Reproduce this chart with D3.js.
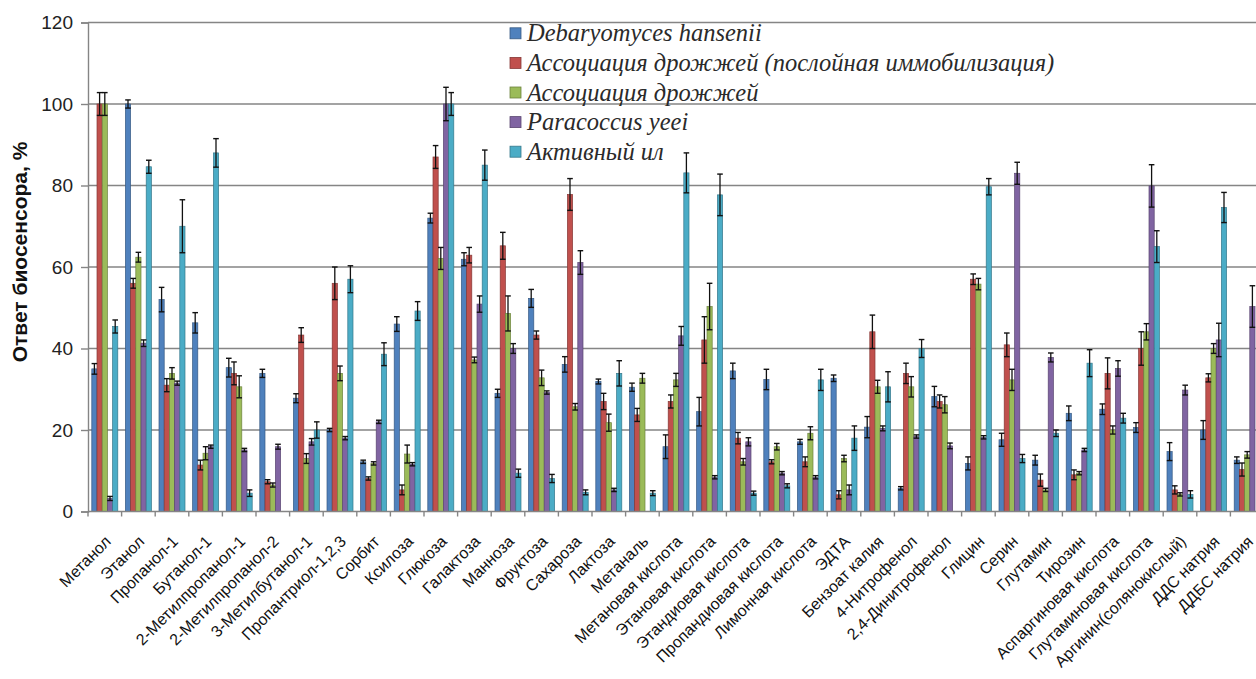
<!DOCTYPE html>
<html><head><meta charset="utf-8">
<script src="https://cdn.jsdelivr.net/npm/d3@7"></script>
<style>html,body{margin:0;padding:0;background:#fff;overflow:hidden}</style>
</head><body>
<svg id="chart" width="1256" height="679"></svg>
<script>
const categories = ["Метанол","Этанол","Пропанол-1","Бутанол-1","2-Метилпропанол-1","2-Метилпропанол-2","3-Метилбутанол-1","Пропантриол-1,2,3","Сорбит","Ксилоза","Глюкоза","Галактоза","Манноза","Фруктоза","Сахароза","Лактоза","Метаналь","Метановая кислота","Этановая кислота","Этандиовая кислота","Пропандиовая кислота","Лимонная кислота","ЭДТА","Бензоат калия","4-Нитрофенол","2,4-Динитрофенол","Глицин","Серин","Глутамин","Тирозин","Аспаргиновая кислота","Глутаминовая кислота","Аргинин(солянокислый)","ДДС натрия","ДДБС натрия"];

const seriesNames = ["Debaryomyces hansenii","Ассоциация дрожжей (послойная иммобилизация)","Ассоциация дрожжей","Paracoccus yeei","Активный ил"];

const debaryomyces = [35,100,52,46.3,35.3,33.9,27.8,20,12.2,46,72,61.9,29,52.3,36.1,31.9,30.5,15.9,24.5,34.5,32.4,17.1,32.7,20.7,5.7,28.2,11.8,17.6,12.6,24.1,25.1,20.6,14.7,20,12.6];
const debaryomycesErr = [1.3,1,3,2.5,2.3,1,1.1,0.4,0.4,1.8,1.2,1.6,1,2.2,1.9,0.6,1,2.9,3.5,1.9,2.5,0.6,0.8,2.6,0.4,2.5,1.6,1.6,1.2,1.8,1.3,1.2,2.2,2.3,0.8];

const assocLayer = [100,56,31,11.4,33.9,7.3,43.3,56,8.1,5.3,87,62.9,65.2,43.3,77.8,27,23.7,27,42.1,18,12.2,12.2,4.1,44.1,33.9,27,57,40.9,7.7,9,33.9,40,5.3,32.8,10.3];
const assocLayerErr = [2.8,1.2,1.6,1.2,2.8,0.5,1.8,4,0.4,1.2,2.8,1.9,3.3,1,3.9,2,1.6,1.6,5.7,1.4,0.5,1.2,1,4.1,2.5,1.6,1.3,2.9,1.5,1.2,3.8,4.1,1,1,1.6];

const assoc = [100,62.4,33.9,14.3,30.6,6.5,13,33.9,11.8,14.1,62.1,37.2,48.6,32.8,25.7,21.8,32.7,32.3,50.3,12.2,15.9,19.2,13,30.6,30.6,26.2,55.8,32.3,5.3,9.4,20,44.1,4.2,40,13.9];
const assocErr = [2.8,1.2,1.4,1.6,2.7,0.5,1.2,1.8,0.4,2.2,2.7,0.7,4.3,1.9,0.8,2.1,1.2,1.6,5.7,0.8,0.8,1.6,0.8,1.6,2.5,2,1.4,2.6,0.4,0.4,1,2,0.4,1.2,0.8];

const paracoccus = [3.2,41.3,31.5,15.9,15.1,15.9,17.1,18,22,11.6,100,50.9,40,29.2,61.1,5.3,0,43.1,8.4,17.1,9.4,8.4,5.3,20.4,18.4,16.1,18.2,83,37.8,15.1,35.1,79.9,29.8,42.1,50.3];
const paracoccusErr = [0.5,0.8,0.5,0.4,0.4,0.6,0.8,0.4,0.4,0.4,4.1,2,1.2,0.4,2.9,0.4,0,2.3,0.4,1,0.4,0.4,1.2,0.6,0.4,0.7,0.4,2.7,1.1,0.4,1.9,5.2,1.2,4.1,5.1];

const sludge = [45.4,84.6,70,88,4.5,0,20,57,38.6,49.2,100,85,9.4,8.1,4.7,33.9,4.5,83.1,77.7,4.5,6.3,32.3,18,30.6,40,0,79.7,13,19.2,36.4,22.9,65,4.2,74.6,0];
const sludgeErr = [1.6,1.6,6.5,3.5,0.8,0,2,3.3,2.8,2.3,2.8,3.7,1,1,0.6,3.1,0.6,4.9,5.1,0.5,0.5,2.6,3,3.7,2.2,0,2,1,0.8,3.3,1.2,3.9,0.9,3.7,0];

const yTicks = [0,20,40,60,80,100,120];
const colors = ["#4F81BD","#C0504D","#9BBB59","#8064A2","#4BACC6"];

const seriesValues = [debaryomyces, assocLayer, assoc, paracoccus, sludge];
const seriesErrors = [debaryomycesErr, assocLayerErr, assocErr, paracoccusErr, sludgeErr];

(function draw() {
const SANS = "'Liberation Sans', Arial, sans-serif";
const SERIF = "'Liberation Serif', 'Times New Roman', serif";
const svg = d3.select("#chart");
const plotLeft = 88, plotTop = 22.5, plotBottom = 511.5, step = 33.6;
const plotRight = plotLeft + step * categories.length;

const y = d3.scaleLinear().domain([0,120]).range([plotBottom, plotTop]);
const x0 = d3.scaleBand().domain(categories).range([plotLeft, plotRight]).paddingInner(0).paddingOuter(0);
const x1 = d3.scaleBand().domain(d3.range(seriesNames.length)).range([3.8, step - 3.8]).padding(0);

// gridlines
svg.append("g").selectAll("line").data(yTicks.filter(d => d > 0)).join("line")
  .attr("x1", plotLeft).attr("x2", 1256)
  .attr("y1", d => y(d)).attr("y2", d => y(d))
  .attr("stroke", "#858585").attr("stroke-width", 1.4);

// y axis
const yAxis = d3.axisLeft(y).tickValues(yTicks).tickSize(7).tickPadding(8);
const gy = svg.append("g").attr("transform", `translate(${plotLeft},0)`).call(yAxis);
gy.select(".domain").attr("stroke", "#858585").attr("stroke-width", 1.4);
gy.selectAll(".tick line").attr("stroke", "#858585").attr("stroke-width", 1.4);
gy.selectAll(".tick text").style("font-family", SANS).style("font-size", "19px").attr("fill", "#222");

// bars
const groups = svg.append("g").selectAll("g").data(categories).join("g")
  .attr("transform", d => `translate(${x0(d)},0)`);

seriesNames.forEach((s, si) => {
  groups.append("rect")
    .attr("x", x1(si))
    .attr("width", x1.bandwidth())
    .attr("y", (d, i) => y(seriesValues[si][i]))
    .attr("height", (d, i) => plotBottom - y(seriesValues[si][i]))
    .attr("fill", colors[si])
    .attr("stroke", d3.color(colors[si]).darker(1))
    .attr("stroke-width", 0.7)
    .style("display", (d, i) => seriesValues[si][i] > 0 ? null : "none");
});

// error bars
seriesNames.forEach((s, si) => {
  const eb = groups.append("g").style("display", (d, i) => seriesValues[si][i] > 0 ? null : "none");
  const cx = x1(si) + x1.bandwidth() / 2;
  eb.append("line").attr("x1", cx).attr("x2", cx)
    .attr("y1", (d, i) => y(seriesValues[si][i] + seriesErrors[si][i]))
    .attr("y2", (d, i) => y(Math.max(0, seriesValues[si][i] - seriesErrors[si][i])))
    .attr("stroke", "#111").attr("stroke-width", 1.3);
  [1, -1].forEach(sign => {
    eb.append("line").attr("x1", cx - 2.8).attr("x2", cx + 2.8)
      .attr("y1", (d, i) => y(seriesValues[si][i] + sign * seriesErrors[si][i]))
      .attr("y2", (d, i) => y(seriesValues[si][i] + sign * seriesErrors[si][i]))
      .attr("stroke", "#111").attr("stroke-width", 1.4);
  });
});

// x axis
svg.append("line").attr("x1", plotLeft).attr("x2", 1256).attr("y1", plotBottom).attr("y2", plotBottom)
  .attr("stroke", "#858585").attr("stroke-width", 1.4);
svg.append("g").selectAll("line").data(categories).join("line")
  .attr("x1", d => x0(d)).attr("x2", d => x0(d))
  .attr("y1", plotBottom).attr("y2", plotBottom + 5)
  .attr("stroke", "#858585").attr("stroke-width", 1.4);

svg.append("g").selectAll("text").data(categories).join("text")
  .attr("transform", d => `translate(${x0(d) + x0.bandwidth()/2 + 7},${plotBottom + 31}) rotate(-45)`)
  .attr("text-anchor", "end")
  .style("font-family", SANS)
  .style("font-size", "16px")
  .attr("fill", "#111")
  .text(d => d);

// y title
svg.append("text")
  .attr("transform", `translate(27,252) rotate(-90)`)
  .attr("text-anchor", "middle")
  .style("font-family", SANS)
  .style("font-weight", "bold")
  .style("font-size", "21px")
  .attr("fill", "#111")
  .text("Ответ биосенсора, %");

// legend
const legend = svg.append("g").attr("transform", "translate(510,33.3)");
const li = legend.selectAll("g").data(seriesNames).join("g")
  .attr("transform", (d, i) => `translate(0,${i * 29.6})`);
li.append("rect").attr("x", 0).attr("y", -5.5).attr("width", 11).attr("height", 11)
  .attr("fill", (d, i) => colors[i]).attr("stroke", (d, i) => d3.color(colors[i]).darker(1)).attr("stroke-width", 0.8);
li.append("text").attr("x", 17).attr("y", 8)
  .style("font-family", SERIF)
  .style("font-style", "italic")
  .style("font-size", "24.5px")
  .attr("fill", "#2a2a2a")
  .text(d => d);
})();
</script>
</body></html>
